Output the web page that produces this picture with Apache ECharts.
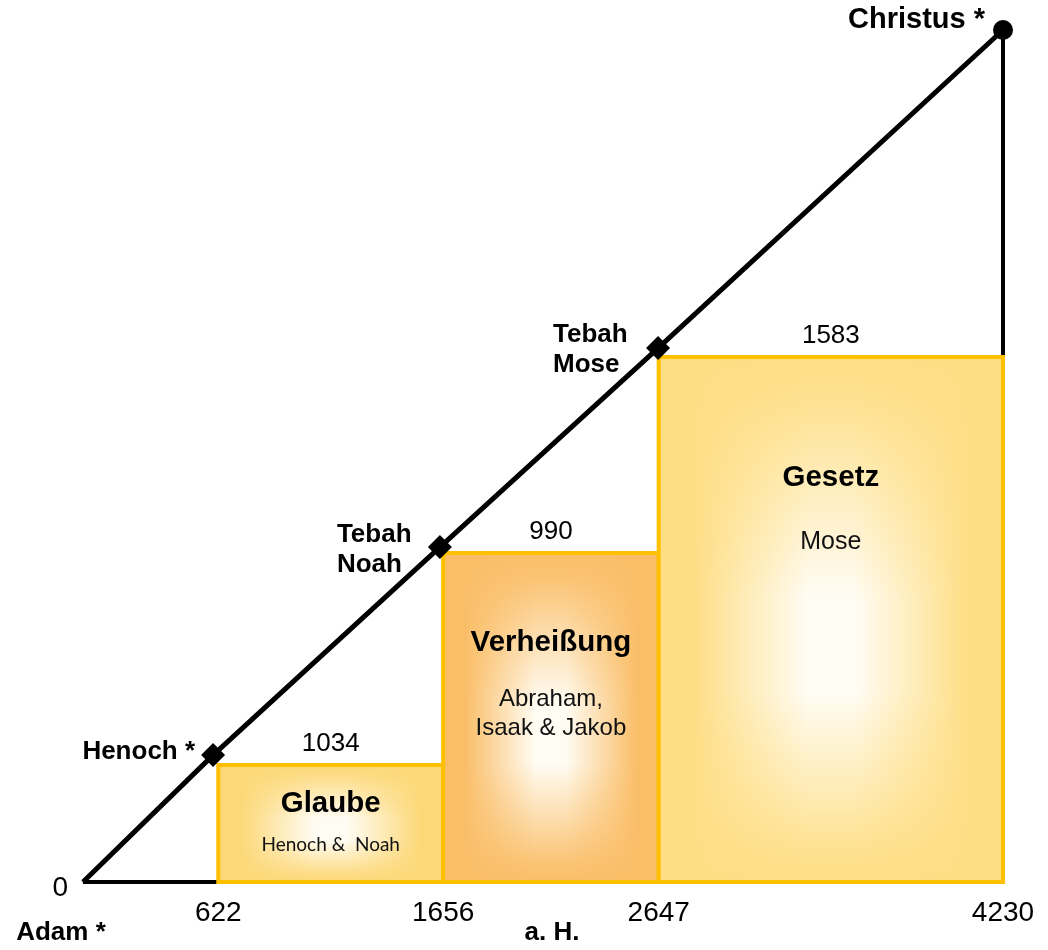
<!DOCTYPE html>
<html>
<head>
<meta charset="utf-8">
<style>
  html, body { margin: 0; padding: 0; background: #fff; }
  #chart { width: 1048px; height: 950px; }
</style>
</head>
<body>
<div id="chart"></div>
<script src="https://cdn.jsdelivr.net/npm/echarts@6/dist/echarts.min.js"></script>
<script>
// years after creation (a. H.)
var tickYears = [622, 1656, 2647, 4230];
var eraStart = [622, 1656, 2647];
var eraEnd = [1656, 2647, 4230];
var eraTop = [581, 1633, 2607];
var eraSpan = [1034, 990, 1583];
var eraTitle = ['Glaube', 'Verheißung', 'Gesetz'];
var eraSub = ['Henoch &  Noah', 'Abraham,\nIsaak & Jakob', 'Mose'];
var eventX = [0, 598, 1641, 2644, 4230];
var eventY = [0, 630, 1663, 2651, 4230];
var eventName = ['Adam *', 'Henoch *', 'Tebah\nNoah', 'Tebah\nMose', 'Christus *'];

// layout + look
var FONT = '"Liberation Sans", Arial, sans-serif';
var eraColor = [[252, 216, 120], [250, 190, 104], [254, 222, 133]];
var titleOffset = [39, 90, 121];
var subOffset = [80, 161, 185];
var subFont = [['Lato', 19], [FONT, 24], [FONT, 25]];
var eventLabel = [
  {align: 'center', offset: [-22, 51], size: 26},
  {align: 'right', offset: [-18, -3], size: 26},
  {align: 'left', offset: [-103, 3], size: 26},
  {align: 'left', offset: [-105, 2], size: 26},
  {align: 'right', offset: [-18, -10], size: 29}
];
var eventSymbol = ['circle', 'diamond', 'diamond', 'diamond', 'circle'];
var eventSymbolSize = [1, 24, 24, 24, 20];

function rgba(c, a) {
  return 'rgba(' + c[0] + ',' + c[1] + ',' + c[2] + ',' + a + ')';
}

function renderEra(params, api) {
  var i = params.dataIndex;
  var p0 = api.coord([api.value(0), 0]);
  var p1 = api.coord([api.value(1), api.value(2)]);
  var x = p0[0], y = p1[1], w = p1[0] - p0[0], h = p0[1] - p1[1];
  var c = eraColor[i];
  var shape = {x: x, y: y, width: w, height: h};
  return {
    type: 'group',
    children: [
      {
        type: 'rect', shape: shape,
        style: {fill: new echarts.graphic.LinearGradient(0, 0, 1, 0, [
          {offset: 0, color: rgba(c, 1)},
          {offset: 0.1, color: rgba(c, 1)},
          {offset: 0.43, color: '#fffcf3'},
          {offset: 0.57, color: '#fffcf3'},
          {offset: 0.9, color: rgba(c, 1)},
          {offset: 1, color: rgba(c, 1)}
        ])}
      },
      {
        type: 'rect', shape: shape,
        style: {fill: new echarts.graphic.LinearGradient(0, 0, 0, 1, [
          {offset: 0, color: rgba(c, 1)},
          {offset: 0.08, color: rgba(c, 0.9)},
          {offset: 0.46, color: rgba(c, 0)},
          {offset: 0.64, color: rgba(c, 0)},
          {offset: 0.94, color: rgba(c, 0.9)},
          {offset: 1, color: rgba(c, 1)}
        ])}
      },
      {
        type: 'rect', shape: shape,
        style: {fill: 'none', stroke: '#FFC000', lineWidth: 4}
      },
      {
        type: 'text',
        style: {text: String(eraSpan[i]), x: x + w / 2, y: y - 21, align: 'center', verticalAlign: 'middle',
          fontSize: 26, fontFamily: FONT, fill: '#000'}
      },
      {
        type: 'text',
        style: {text: eraTitle[i], x: x + w / 2, y: y + titleOffset[i], align: 'center', verticalAlign: 'middle',
          fontSize: 29.5, fontWeight: 'bold', fontFamily: FONT, fill: '#000'}
      },
      {
        type: 'text',
        style: {text: eraSub[i], x: x + w / 2, y: y + subOffset[i], align: 'center', verticalAlign: 'middle',
          fontSize: subFont[i][1], fontFamily: subFont[i][0], lineHeight: 29, fill: '#111'}
      }
    ]
  };
}

var eraData = eraStart.map(function (s, i) { return [s, eraEnd[i], eraTop[i]]; });

var eventData = eventX.map(function (x, i) {
  return {
    value: [x, eventY[i]],
    symbol: eventSymbol[i],
    symbolSize: eventSymbolSize[i],
    label: {
      show: true,
      formatter: eventName[i],
      position: 'inside',
      align: eventLabel[i].align,
      verticalAlign: 'middle',
      offset: eventLabel[i].offset,
      fontSize: eventLabel[i].size,
      fontWeight: 'bold',
      fontFamily: FONT,
      lineHeight: 30,
      color: '#000'
    }
  };
});

var chart = echarts.init(document.getElementById('chart'));
chart.setOption({
  animation: false,
  backgroundColor: '#fff',
  grid: {left: 83, right: 45, top: 30, bottom: 68, containLabel: false, outerBoundsMode: 'none'},
  xAxis: {
    type: 'value', min: 0, max: 4230,
    name: 'a. H.', nameLocation: 'middle', nameGap: 38, nameMoveOverlap: false,
    nameTextStyle: {fontSize: 26, fontWeight: 'bold', fontFamily: FONT, color: '#000', padding: [0, 0, 0, 18]},
    axisLine: {show: false}, axisTick: {show: false}, splitLine: {show: false},
    axisLabel: {
      customValues: tickYears, showMaxLabel: true, margin: 17, fontSize: 28, fontFamily: FONT, color: '#000',
      formatter: function (v) { return String(v); }
    }
  },
  yAxis: {
    type: 'value', min: 0, max: 4230,
    axisLine: {show: false}, axisTick: {show: false}, splitLine: {show: false},
    axisLabel: {
      customValues: [0], margin: 15, fontSize: 28, fontFamily: FONT, color: '#000',
      verticalAlign: 'top', lineHeight: 12,
      formatter: function (v) { return String(v); }
    }
  },
  series: [
    {
      type: 'line', z: 1, symbol: 'none',
      lineStyle: {color: '#000', width: 4},
      data: [[eventX[4], 0], [eventX[4], eventY[4]]]
    },
    {
      type: 'line', z: 1, symbol: 'none',
      lineStyle: {color: '#000', width: 4},
      data: [[eventX[0], 0], [eraStart[0], 0]]
    },
    {
      type: 'custom', z: 2,
      renderItem: renderEra,
      encode: {x: [0, 1], y: 2},
      data: eraData
    },
    {
      type: 'line', z: 3,
      lineStyle: {color: '#000', width: 5},
      itemStyle: {color: '#000'},
      data: eventData
    }
  ]
});
</script>
</body>
</html>
